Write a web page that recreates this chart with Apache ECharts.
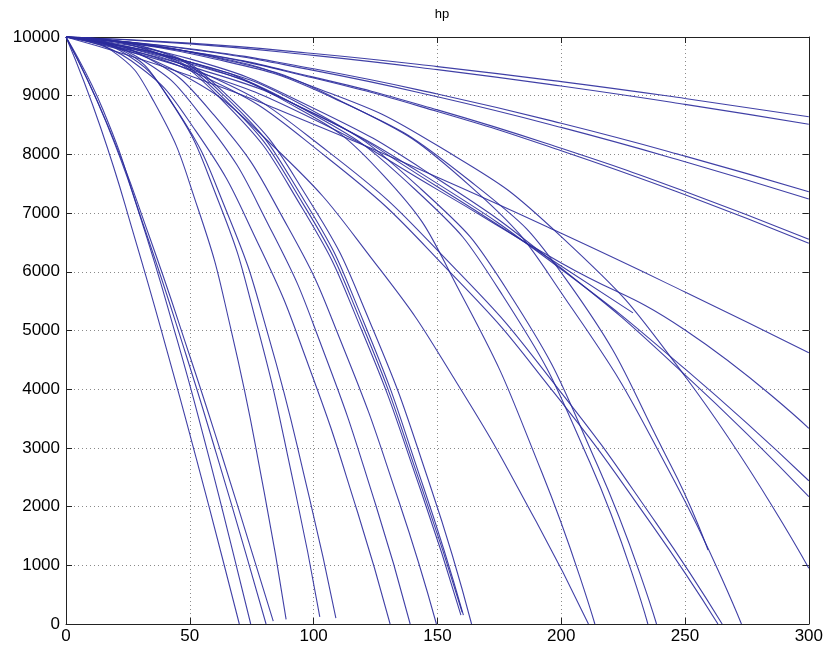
<!DOCTYPE html>
<html>
<head>
<meta charset="utf-8">
<title>hp</title>
<script src="https://cdn.jsdelivr.net/npm/echarts@6/dist/echarts.min.js"></script>
<style>
  html, body { margin: 0; padding: 0; background: #fff; }
  #chart { width: 826px; height: 649px; }
</style>
</head>
<body>
<div id="chart"></div>
<script>
// hp curves as [x, hp] points
// steep ones that hit zero early
const hp01 = [[0,10000],[14,8454],[28,6545],[42,4470],[52.5,2837],[63,1150],[70,0]];
const hp02 = [[0,10000],[14.9,8766],[29.8,6961],[44.8,4852],[56,3120],[67.1,1280],[74.6,0]];
const hp03 = [[0,10000],[16.2,8550],[32.3,6670],[48.5,4583],[60.6,2920],[72.7,1190],[80.8,0]];
const hp04 = [[0,10000],[16.8,8503],[33.6,6610],[50.3,4527],[62.9,2879],[75.5,1170],[83.7,50]];
const hp05 = [[0,10000],[17.8,9790],[35.6,8891],[53.4,7065],[66.8,4987],[80.1,2235],[88.9,80]];
const hp06 = [[0,10000],[20.5,9821],[41,8988],[61.5,7211],[76.9,5129],[92.3,2317],[102.5,120]];
const hp07 = [[0,10000],[21.8,9769],[43.6,8828],[65.4,6973],[81.8,4900],[98.1,2185],[109,100]];
const hp08 = [[0,10000],[26.2,9600],[52.4,8400],[78.5,6400],[98.2,4375],[117.8,1900],[130.9,0]];
const hp09 = [[0,10000],[27.8,9686],[55.6,8606],[83.4,6665],[104.3,4613],[125.1,2027],[139,0]];
const hp10 = [[0,10000],[29.9,9710],[59.8,8668],[89.8,6750],[112.2,4690],[134.6,2070],[149.6,0]];
const hp11 = [[0,10000],[31.9,9790],[63.8,8891],[95.7,7065],[119.6,4987],[143.6,2235],[159.5,150]];
const hp12 = [[0,10000],[32.1,9821],[64.2,8988],[96.3,7211],[120.4,5129],[144.5,2317],[160.5,150]];
const hp13 = [[0,10000],[32.8,9821],[65.5,8988],[98.3,7211],[122.9,5129],[147.4,2317],[163.8,0]];
const hp14 = [[0,10000],[42.2,9466],[84.4,8113],[126.6,6053],[158.3,4076],[189.9,1745],[211,0]];
const hp15 = [[0,10000],[42.7,9660],[85.4,8980],[128.2,7644],[160.2,5570],[192.2,2580],[213.6,0]];
const hp16 = [[0,10000],[47,9583],[94,8816],[141,7402],[176.3,5601],[211.5,2759],[235,0]];
const hp17 = [[0,10000],[47.7,9600],[95.4,8840],[143.1,7420],[178.9,5640],[214.7,2700],[238.5,0]];
const hp18 = [[0,10000],[54.3,9680],[108.5,8950],[162.8,7560],[203.5,5781],[244.2,2710],[259.3,1260]];
const hp19 = [[0,10000],[52.7,9382],[105.3,7951],[158,5867],[197.5,3920],[237,1667],[263.3,0]];
const hp20 = [[0,10000],[53,9430],[106,8043],[159,5972],[198.8,4007],[238.5,1710],[265,0]];
const hp21 = [[0,10000],[54.6,9700],[109.1,8950],[163.7,7444],[204.6,5361],[245.5,2453],[272.8,0]];
const hp33 = [[0,10000],[50,9500],[100,8700],[150,7450],[195,6235],[229,5300]];
const hp34 = [[0,10000],[32,9800],[64,8940],[96,7140],[120,5060],[144,2280],[160,200]];
// slow ones that are still alive at x = 300
const hp22 = [[0,10000],[50,9895],[100,9718],[150,9496],[200,9240],[250,8953],[300,8642]];
const hp23 = [[0,10000],[50,9883],[100,9687],[150,9444],[200,9164],[250,8852],[300,8513]];
const hp24 = [[0,10000],[50,9800],[100,9458],[150,9028],[200,8530],[250,7971],[300,7363]];
const hp25 = [[0,10000],[50,9791],[100,9432],[150,8982],[200,8460],[250,7875],[300,7240]];
const hp26 = [[0,10000],[50,9753],[100,9316],[150,8759],[200,8104],[250,7369],[300,6554]];
const hp27 = [[0,10000],[50,9748],[100,9301],[150,8731],[200,8063],[250,7312],[300,6486]];
const hp28 = [[0,10000],[50,9340],[100,8513],[150,7610],[200,6655],[250,5656],[300,4622]];
const hp29 = [[0,10000],[50,9450],[100,8600],[150,7400],[200,6150],[250,5008],[300,3334]];
const hp30 = [[0,10000],[50,9570],[100,8695],[150,7502],[200,6043],[250,4345],[300,2440]];
const hp31 = [[0,10000],[50,9627],[100,8788],[150,7585],[200,6060],[250,4245],[300,2170]];
const hp32 = [[0,10000],[50,9750],[100,9150],[150,8150],[200,6600],[250,4220],[300,950]];

const allCurves = [hp01, hp02, hp03, hp04, hp05, hp06, hp07, hp08, hp09, hp10, hp11,
  hp12, hp13, hp14, hp15, hp16, hp17, hp18, hp19, hp20, hp21, hp22, hp23, hp24,
  hp25, hp26, hp27, hp28, hp29, hp30, hp31, hp32, hp33, hp34];

const chart = echarts.init(document.getElementById('chart'), null, { renderer: 'canvas' });

const font = 'Liberation Sans, Arial, Helvetica, sans-serif';
const gridDots = { type: [1, 3], color: '#8a8a8a', width: 1 };

const frameAxis = (pos) => ({
  type: 'value',
  position: pos,
  min: 0,
  max: pos === 'top' || pos === 'bottom' ? 300 : 10000,
  interval: pos === 'top' || pos === 'bottom' ? 50 : 1000,
  axisLine: { show: true, onZero: false, lineStyle: { color: '#222', width: 1 } },
  axisTick: { show: true, inside: true, length: 6, lineStyle: { color: '#222' } },
  axisLabel: { show: false },
  splitLine: { show: false }
});

chart.setOption({
  animation: false,
  backgroundColor: '#fff',
  title: {
    text: 'hp',
    left: 437,
    top: 3,
    textAlign: 'center',
    textStyle: { fontFamily: font, fontSize: 13, fontWeight: 'normal', color: '#000' }
  },
  grid: { left: 66, right: 17, top: 37, bottom: 25, containLabel: false },
  xAxis: [
    {
      type: 'value',
      position: 'bottom',
      min: 0,
      max: 300,
      interval: 50,
      axisLine: { show: true, onZero: false, lineStyle: { color: '#222', width: 1 } },
      axisTick: { show: true, inside: true, length: 6, lineStyle: { color: '#222' } },
      axisLabel: { color: '#000', fontSize: 17, fontFamily: font, margin: 4, formatter: (v) => String(v) },
      splitLine: { show: true, lineStyle: gridDots }
    },
    frameAxis('top')
  ],
  yAxis: [
    {
      type: 'value',
      position: 'left',
      min: 0,
      max: 10000,
      interval: 1000,
      axisLine: { show: true, onZero: false, lineStyle: { color: '#222', width: 1 } },
      axisTick: { show: true, inside: true, length: 6, lineStyle: { color: '#222' } },
      axisLabel: { color: '#000', fontSize: 17, fontFamily: font, margin: 6, formatter: (v) => String(v) },
      splitLine: { show: true, lineStyle: gridDots }
    },
    frameAxis('right')
  ],
  series: allCurves.map((pts, i) => ({
    name: 'hp' + (i + 1),
    type: 'line',
    xAxisIndex: 0,
    yAxisIndex: 0,
    data: pts,
    showSymbol: false,
    smooth: 0.5,
    lineStyle: { color: '#2b2b9c', width: 1.1, opacity: 0.9 },
    silent: true
  }))
});
</script>
</body>
</html>
